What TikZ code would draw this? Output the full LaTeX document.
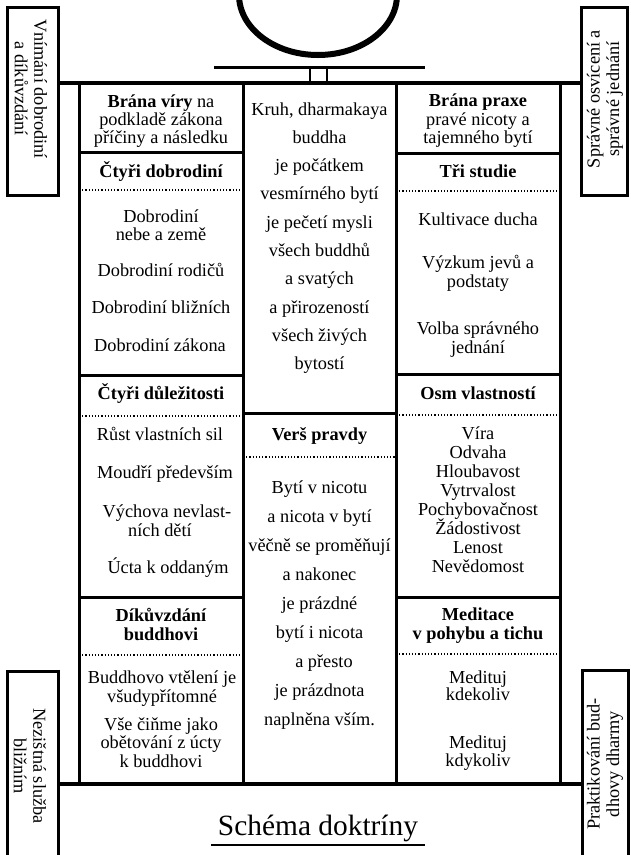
\documentclass[tikz,border=0pt]{standalone}
\usepackage{fontspec}
\setmainfont{Liberation Serif}
\begin{document}
\begin{tikzpicture}[x=1pt,y=-1pt,
  txt/.style={font=\fontsize{18.3}{19}\selectfont, inner sep=0pt, anchor=base},
  hdr/.style={font=\fontsize{18.3}{19}\selectfont\bfseries, inner sep=0pt, anchor=base},
  side/.style={font=\fontsize{18.3}{19.5}\selectfont, inner sep=0pt, align=center},
  frame/.style={line width=3pt},
  heavy/.style={line width=3.6pt},
  dots/.style={line width=1.1pt, dash pattern=on 1.1pt off 2.1pt}]
\clip (0,0) rectangle (630,855);
\fill[white] (0,0) rectangle (630,855);

% emblem
\draw[line width=6pt] (318,-5) ellipse [x radius=79, y radius=60];
\coordinate (barL) at (214,67);
\coordinate (barR) at (425,67);
\draw[line width=3pt] (barL) -- (barR);
\draw[line width=2.6pt] (310,67) -- (310,83) (327,67) -- (327,83);

% columns
\draw[frame] (79,83) rectangle (243,784);
\draw[frame] (243,83) rectangle (396,784);
\draw[frame] (396,83) rectangle (560,784);
\draw[frame] (79,152) -- (243,152) (79,375) -- (243,375) (79,597) -- (243,597);
\draw[frame] (243,413) -- (396,413);
\draw[frame] (396,153) -- (560,153) (396,374) -- (560,374) (396,597) -- (560,597);
\draw[dots] (79,190) -- (243,190) (79,416) -- (243,416) (79,655) -- (243,655);
\draw[dots] (243,457) -- (396,457);
\draw[dots] (396,191) -- (560,191) (396,415) -- (560,415) (396,654) -- (560,654);

% top and bottom bars
\draw[heavy] (58,83) -- (581,83);
\draw[heavy] (58,784) -- (582,784);

% side boxes
\draw[frame] (7,7) rectangle (58,195);
\draw[frame] (581,7) rectangle (627,195);
\draw[frame] (7,671) rectangle (58,875);
\draw[frame] (582,670) rectangle (628,875);
\node[side, rotate=-90] (tl) at (31,89) {Vnímání dobrodiní\\a díkůvzdání};
\node[side, rotate=90] (tr) at (605,99) {Správné osvícení a\\správné jednání};
\node[side, rotate=-90] (bl) at (30,766) {Nezištná služba\\bližním};
\node[side, rotate=90] (br) at (605,764) {Praktikování bud-\\dhovy dharmy};

% left column
\node[txt] (l1a) at (161,107) {\textbf{Brána víry} na};
\node[txt] (l1b) at (161,125) {podkladě zákona};
\node[txt] (l1c) at (161,143) {příčiny a následku};
\node[hdr] (l2h) at (161,177) {Čtyři dobrodiní};
\node[txt] (l2a) at (161,222) {Dobrodiní};
\node[txt] (l2b) at (161,240) {nebe a země};
\node[txt] (l2c) at (161,276) {Dobrodiní rodičů};
\node[txt] (l2d) at (161,313) {Dobrodiní bližních};
\node[txt] (l2e) at (160,351) {Dobrodiní zákona};
\node[hdr] (l3h) at (161,399) {Čtyři důležitosti};
\node[txt] (l3a) at (160,440) {Růst vlastních sil};
\node[txt] (l3b) at (165,478) {Moudří především};
\node[txt] (l3c) at (167,517) {Výchova nevlast-};
\node[txt] (l3d) at (160,536) {ních dětí};
\node[txt] (l3e) at (168,573) {Úcta k oddaným};
\node[hdr] (l4h) at (161,621) {Díkůvzdání};
\node[hdr] (l4i) at (161,640) {buddhovi};
\node[txt] (l4a) at (162,683) {Buddhovo vtělení je};
\node[txt] (l4b) at (162,702) {všudypřítomné};
\node[txt] (l4c) at (161,730) {Vše čiňme jako};
\node[txt] (l4d) at (161,748) {obětování z úcty};
\node[txt] (l4e) at (161,767) {k buddhovi};

% middle column
\node[txt] (m1) at (319.5,115) {Kruh, dharmakaya};
\node[txt] (m2) at (319.5,143.3) {buddha};
\node[txt] (m3) at (319.5,171.6) {je počátkem};
\node[txt] (m4) at (319.5,199.9) {vesmírného bytí};
\node[txt] (m5) at (319.5,228.2) {je pečetí mysli};
\node[txt] (m6) at (319.5,256.5) {všech buddhů};
\node[txt] (m7) at (319.5,284.8) {a svatých};
\node[txt] (m8) at (319.5,313.1) {a přirozeností};
\node[txt] (m9) at (319.5,341.4) {všech živých};
\node[txt] (m10) at (319.5,369.7) {bytostí};
\node[hdr] (mh) at (319.5,440) {Verš pravdy};
\node[txt] (n1) at (319.5,493) {Bytí v nicotu};
\node[txt] (n2) at (319.5,522) {a nicota v bytí};
\node[txt] (n3) at (319.5,551) {věčně se proměňují};
\node[txt] (n4) at (319.5,580) {a nakonec};
\node[txt] (n5) at (319.5,609) {je prázdné};
\node[txt] (n6) at (319.5,638) {bytí i nicota};
\node[txt] (n7) at (324,667) {a přesto};
\node[txt] (n8) at (319.5,696) {je prázdnota};
\node[txt] (n9) at (319.5,725) {naplněna vším.};

% right column
\node[hdr] (r1a) at (478,106) {Brána praxe};
\node[txt] (r1b) at (478,125) {pravé nicoty a};
\node[txt] (r1c) at (478,143) {tajemného bytí};
\node[hdr] (r2h) at (478,177) {Tři studie};
\node[txt] (r2a) at (478,225) {Kultivace ducha};
\node[txt] (r2b) at (478,268) {Výzkum jevů a};
\node[txt] (r2c) at (478,287) {podstaty};
\node[txt] (r2d) at (478,334) {Volba správného};
\node[txt] (r2e) at (478,353) {jednání};
\node[hdr] (r3h) at (478,399) {Osm vlastností};
\node[txt] (r3a) at (478,439) {Víra};
\node[txt] (r3b) at (478,458) {Odvaha};
\node[txt] (r3c) at (478,477) {Hloubavost};
\node[txt] (r3d) at (478,496) {Vytrvalost};
\node[txt] (r3e) at (478,515) {Pochybovačnost};
\node[txt] (r3f) at (478,534) {Žádostivost};
\node[txt] (r3g) at (478,553) {Lenost};
\node[txt] (r3h) at (478,572) {Nevědomost};
\node[hdr] (r4h) at (478,620) {Meditace};
\node[hdr] (r4i) at (478,639) {v pohybu a tichu};
\node[txt] (r4a) at (478,683) {Medituj};
\node[txt] (r4b) at (478,700) {kdekoliv};
\node[txt] (r4c) at (478,748) {Medituj};
\node[txt] (r4d) at (478,766) {kdykoliv};

% title
\node[font=\fontsize{29.4}{32}\selectfont, inner xsep=7pt, inner ysep=3.5pt, anchor=base] (title) at (318,835) {Schéma doktríny};
\draw[line width=2.6pt] (title.south west) -- (title.south east);
\end{tikzpicture}
\end{document}
